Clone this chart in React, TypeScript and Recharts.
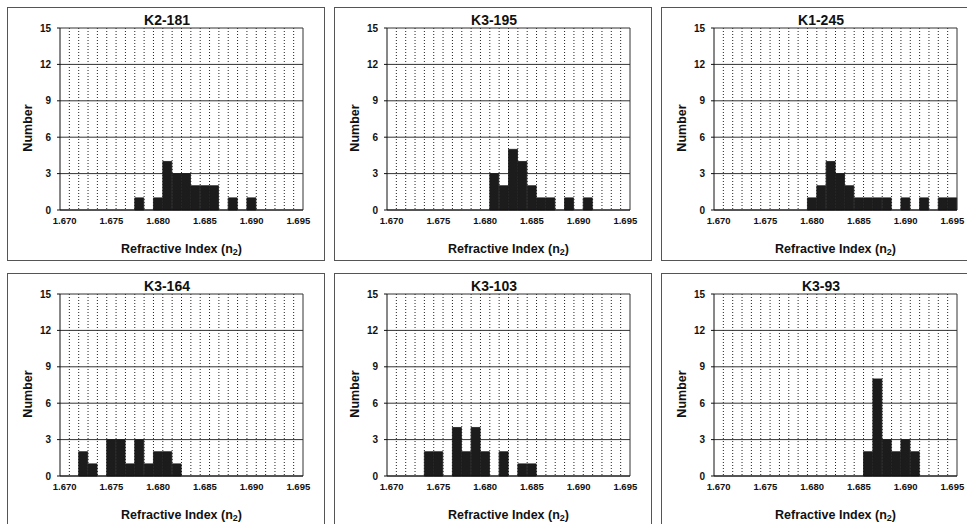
import { BarChart, Bar, XAxis, YAxis, CartesianGrid } from 'recharts';

// refractive index classes (bin width 0.001)
const CATEGORIES = [
  '1.670', '1.671', '1.672', '1.673', '1.674', '1.675', '1.676', '1.677', '1.678',
  '1.679', '1.680', '1.681', '1.682', '1.683', '1.684', '1.685', '1.686', '1.687',
  '1.688', '1.689', '1.690', '1.691', '1.692', '1.693', '1.694', '1.695',
];
const Y_TICKS = [0, 3, 6, 9, 12, 15];

const K2_181 = [0, 0, 0, 0, 0, 0, 0, 0, 1, 0, 1, 4, 3, 3, 2, 2, 2, 0, 1, 0, 1, 0, 0, 0, 0, 0];
const K3_195 = [0, 0, 0, 0, 0, 0, 0, 0, 0, 0, 0, 3, 2, 5, 4, 2, 1, 1, 0, 1, 0, 1, 0, 0, 0, 0];
const K1_245 = [0, 0, 0, 0, 0, 0, 0, 0, 0, 0, 1, 2, 4, 3, 2, 1, 1, 1, 1, 0, 1, 0, 1, 0, 1, 1];
const K3_164 = [0, 0, 2, 1, 0, 3, 3, 1, 3, 1, 2, 2, 1, 0, 0, 0, 0, 0, 0, 0, 0, 0, 0, 0, 0, 0];
const K3_103 = [0, 0, 0, 0, 2, 2, 0, 4, 2, 4, 2, 0, 2, 0, 1, 1, 0, 0, 0, 0, 0, 0, 0, 0, 0, 0];
const K3_93 = [0, 0, 0, 0, 0, 0, 0, 0, 0, 0, 0, 0, 0, 0, 0, 0, 2, 8, 3, 2, 3, 2, 0, 0, 0, 0];

const PANELS = [
  { title: 'K2-181', values: K2_181 },
  { title: 'K3-195', values: K3_195 },
  { title: 'K1-245', values: K1_245 },
  { title: 'K3-164', values: K3_164 },
  { title: 'K3-103', values: K3_103 },
  { title: 'K3-93', values: K3_93 },
];

const FONT = '"Liberation Sans", Arial, sans-serif';
const W = 318;
const H = 254;
const COL_X = [7, 334, 661];
const ROW_Y = [7, 273];

// dotted lines sit on the class boundaries, not on the tick centres
const boundaryLines = ({ offset }: any) =>
  CATEGORIES.slice(1).map((_, k) => offset.left + ((k + 1) * offset.width) / CATEGORIES.length);
const rightEdge = ({ offset }: any) => [offset.left + offset.width];

function XTitle({ viewBox }: any) {
  const cx = viewBox.x + viewBox.width / 2;
  const y = viewBox.y + viewBox.height - 3;
  return (
    <text x={cx} y={y} textAnchor="middle" fontSize={12.5} fontWeight="bold" fill="#111" fontFamily={FONT}>
      Refractive Index (n<tspan fontSize={9} dy={2}>2</tspan><tspan dy={-2}>)</tspan>
    </text>
  );
}

function YTitle({ viewBox }: any) {
  const x = viewBox.x + 25;
  const y = viewBox.y + viewBox.height / 2 + 9;
  return (
    <text x={x} y={y} transform={`rotate(-90 ${x} ${y})`} textAnchor="middle" fontSize={12.5} fontWeight="bold" fill="#111" fontFamily={FONT}>
      Number
    </text>
  );
}

function Panel({ title, values, left, top }: { title: string; values: number[]; left: number; top: number }) {
  const data = CATEGORIES.map((ri, i) => ({ ri, n: values[i] }));
  const tick = { fontSize: 9.5, fontWeight: 'bold', fill: '#111', fontFamily: FONT };
  return (
    <div style={{ position: 'absolute', left, top, width: W, height: H, border: '1px solid #555', boxSizing: 'border-box' }}>
      <div style={{ position: 'absolute', left: 0, top: 4, width: W, textAlign: 'center', fontFamily: FONT, fontWeight: 'bold', fontSize: 14, lineHeight: '16px', color: '#111' }}>
        {title}
      </div>
      <div style={{ position: 'absolute', left: -1, top: -1 }}>
        <BarChart width={W} height={H} data={data} margin={{ top: 21, right: 22, bottom: 5, left: 0 }} barCategoryGap={0} barGap={0}>
          <CartesianGrid horizontal={false} stroke="#222" strokeDasharray="1 2" verticalCoordinatesGenerator={boundaryLines} />
          <CartesianGrid vertical={false} stroke="#333" />
          <CartesianGrid horizontal={false} stroke="#333" verticalCoordinatesGenerator={rightEdge} />
          <XAxis
            dataKey="ri"
            interval={4}
            height={46}
            tickLine={false}
            tickSize={3}
            tickMargin={4}
            axisLine={{ stroke: '#111' }}
            tick={tick}
            label={{ content: (p: any) => <XTitle viewBox={p.viewBox} /> }}
          />
          <YAxis
            domain={[0, 15]}
            ticks={Y_TICKS}
            width={53}
            tickSize={3}
            tickMargin={6}
            axisLine={{ stroke: '#111' }}
            tickLine={{ stroke: '#111' }}
            tick={{ ...tick, fontSize: 10 }}
            label={{ content: (p: any) => <YTitle viewBox={p.viewBox} /> }}
          />
          <Bar dataKey="n" fill="#1c1c1c" stroke="#1c1c1c" strokeWidth={0.8} isAnimationActive={false} />
        </BarChart>
      </div>
    </div>
  );
}

export default function App() {
  return (
    <div style={{ position: 'absolute', left: 0, top: 0, width: 967, height: 524, overflow: 'hidden', background: '#fff' }}>
      {PANELS.map((p, i) => (
        <Panel key={p.title} title={p.title} values={p.values} left={COL_X[i % 3]} top={ROW_Y[Math.floor(i / 3)]} />
      ))}
    </div>
  );
}
